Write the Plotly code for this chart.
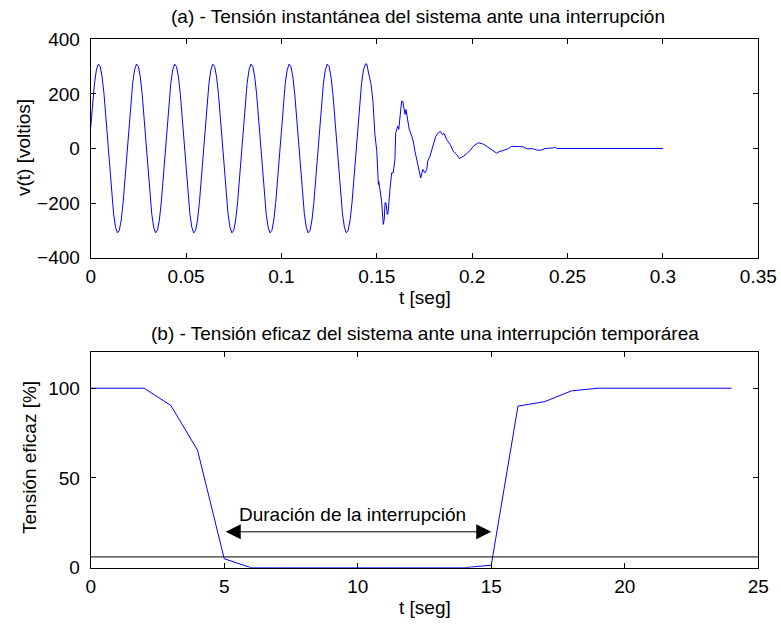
import plotly.graph_objects as go

# ---------------- data ----------------
# (a) instantaneous voltage: steady 50 Hz part sampled every 1 ms (t = 0 .. 0.144 s)
sine_t = [i / 1000 for i in range(145)]
sine_v = [
    77, 166, 239, 288, 309, 300, 262, 198, 114, 19, -77, -166, -239, -288, -309, -300, -262, -198, -114, -19,
    77, 166, 239, 288, 309, 300, 262, 198, 114, 19, -77, -166, -239, -288, -309, -300, -262, -198, -114, -19,
    77, 166, 239, 288, 309, 300, 262, 198, 114, 19, -77, -166, -239, -288, -309, -300, -262, -198, -114, -19,
    77, 166, 239, 288, 309, 300, 262, 198, 114, 19, -77, -166, -239, -288, -309, -300, -262, -198, -114, -19,
    77, 166, 239, 288, 309, 300, 262, 198, 114, 19, -77, -166, -239, -288, -309, -300, -262, -198, -114, -19,
    77, 166, 239, 288, 309, 300, 262, 198, 114, 19, -77, -166, -239, -288, -309, -300, -262, -198, -114, -19,
    77, 166, 239, 288, 309, 300, 262, 198, 114, 19, -77, -166, -239, -288, -309, -300, -262, -198, -114, -19,
    77, 166, 239, 288, 309,
]
# transient after the interruption
trans_t = [0.1447, 0.1470, 0.1480, 0.1490, 0.1500, 0.1508, 0.1510, 0.1515, 0.1525, 0.1534,
           0.1539, 0.1543, 0.1548, 0.1555, 0.1559, 0.1569, 0.1578, 0.1586, 0.1595, 0.1599,
           0.1610, 0.1615, 0.1622, 0.1630, 0.1636, 0.1643, 0.1648, 0.1653, 0.1660, 0.1670,
           0.1683, 0.1691, 0.1700, 0.1709, 0.1718, 0.1730, 0.1741, 0.1753, 0.1762, 0.1767,
           0.1779, 0.1791, 0.1802, 0.1809, 0.1822, 0.1833, 0.1843, 0.1853, 0.1866, 0.1884,
           0.1901, 0.1919, 0.1933, 0.1945, 0.1962, 0.1989, 0.2006, 0.2032, 0.2055, 0.2076,
           0.2102, 0.2128, 0.2146, 0.2165, 0.2190, 0.2207, 0.2250, 0.2268, 0.2286, 0.2320,
           0.2338, 0.2362, 0.2382, 0.2425, 0.2434, 0.2443, 0.3000]
trans_v = [310, 234, 173, 51, -10, -132, -120, -144, -193, -278,
           -260, -199, -199, -242, -236, -150, -89, -89, -40, 57,
           82, 70, 125, 173, 173, 137, 125, 143, 118, 70,
           45, 27, -10, -40, -65, -108, -77, -89, -77, -46,
           -28, 2, 27, 45, 57, 63, 51, 55, 33, 15,
           -10, -22, -37, -32, -25, -7, 8, 21, 17, 8,
           -4, -17, -10, -7, 0, 8, 7, 6, -1, -1,
           -6, -6, 0, 2, 6, 0, 0]

# (b) RMS voltage [%] per second
rms_t = list(range(25))
rms_v = [100, 100, 100, 90.4, 65.5, 5, 0, 0, 0, 0, 0, 0, 0, 0, 0, 1.4,
         90, 92.5, 98.5, 100, 100, 100, 100, 100, 100]
threshold = 6
arrow_y = 20
arrow_start, arrow_end = 5, 15
label_x = 9.8

top_xticks = [0, 0.05, 0.1, 0.15, 0.2, 0.25, 0.3, 0.35]
top_xlabels = ["0", "0.05", "0.1", "0.15", "0.2", "0.25", "0.3", "0.35"]
top_yticks = [-400, -200, 0, 200, 400]
bot_xticks = [0, 5, 10, 15, 20, 25]
bot_yticks = [0, 50, 100]

# ---------------- figure ----------------
W, H = 781, 626
FONT = "Liberation Sans, Arial, sans-serif"
FS = 19
BLUE = "#0000ff"

fig = go.Figure()
fig.add_trace(go.Scatter(x=sine_t + trans_t, y=sine_v + trans_v, mode="lines",
                         line=dict(color=BLUE, width=1), xaxis="x", yaxis="y",
                         showlegend=False, hoverinfo="skip"))
fig.add_trace(go.Scatter(x=rms_t, y=rms_v, mode="lines",
                         line=dict(color=BLUE, width=1), xaxis="x2", yaxis="y2",
                         showlegend=False, hoverinfo="skip"))
fig.add_trace(go.Scatter(x=[0, 25], y=[threshold, threshold], mode="lines",
                         line=dict(color="black", width=1), xaxis="x2", yaxis="y2",
                         showlegend=False, hoverinfo="skip"))

xdom = [90.7 / W, 758.3 / W]
ax_common = dict(showline=True, linecolor="black", linewidth=1, mirror="allticks",
                 ticks="inside", ticklen=5, tickcolor="black", showgrid=False,
                 zeroline=False, automargin=False,
                 tickfont=dict(family=FONT, size=FS, color="black"))

fig.update_layout(
    template="none",
    width=W, height=H, margin=dict(l=0, r=0, t=0, b=0, pad=0),
    paper_bgcolor="white", plot_bgcolor="white",
    font=dict(family=FONT, size=FS, color="black"),
    xaxis=dict(domain=xdom, range=[0, 0.35], tickvals=top_xticks, ticktext=top_xlabels,
               anchor="y", ticklabelstandoff=1, **ax_common),
    yaxis=dict(domain=[(H - 257.7) / H, (H - 39.3) / H], range=[-400, 400],
               tickvals=top_yticks, anchor="x", ticklabelstandoff=6, **ax_common),
    xaxis2=dict(domain=xdom, range=[0, 25], tickvals=bot_xticks, anchor="y2",
                ticklabelstandoff=1, **ax_common),
    yaxis2=dict(domain=[(H - 567.7) / H, (H - 352.3) / H], range=[0, 120],
                tickvals=bot_yticks, anchor="x2", ticklabelstandoff=6, **ax_common),
)

def txt(x, y, s, **kw):
    fig.add_annotation(x=x / W, y=1 - y / H, xref="paper", yref="paper", text=s,
                       showarrow=False, font=dict(family=FONT, size=FS, color="black"),
                       xanchor="center", yanchor="middle", **kw)

cx = (90.7 + 758.3) / 2
txt(cx - 7, 17, "(a) - Tensión instantánea del sistema ante una interrupción")
txt(cx, 297, "t [seg]")
txt(24, 148, "v(t) [voltios]", textangle=-90)
txt(cx, 333, "(b) - Tensión eficaz del sistema ante una interrupción temporárea")
txt(cx, 607, "t [seg]")
txt(29, 458, "Tensión eficaz [%]", textangle=-90)

# double arrow for the interruption duration
fig.add_annotation(x=arrow_end, y=arrow_y, ax=arrow_start, ay=arrow_y,
                   xref="x2", yref="y2", axref="x2", ayref="y2", text="",
                   showarrow=True, arrowhead=2, startarrowhead=2, arrowside="end+start",
                   arrowsize=3, startarrowsize=3, arrowwidth=1, arrowcolor="black")
fig.add_annotation(x=label_x, y=arrow_y, xref="x2", yref="y2",
                   text="Duración de la interrupción", showarrow=False,
                   yanchor="bottom", yshift=5,
                   font=dict(family=FONT, size=FS, color="black"))

fig.write_html("out.html")
